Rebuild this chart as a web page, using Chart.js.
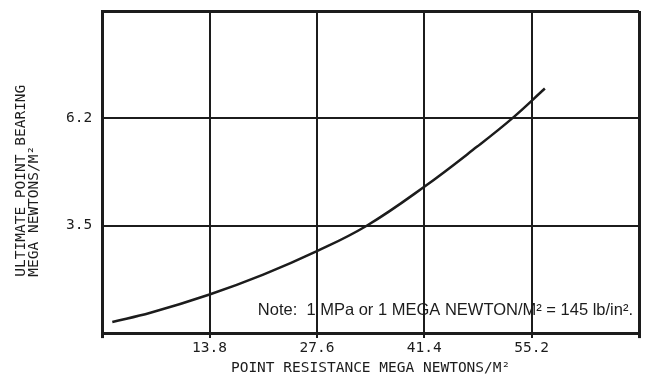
<!DOCTYPE html>
<html><head><meta charset="utf-8">
<script src="https://cdn.jsdelivr.net/npm/chart.js@4/dist/chart.umd.min.js"></script>
<style>html,body{margin:0;padding:0;background:#fff;}#wrap{width:648px;height:380px;}</style>
</head><body><div id="wrap"><canvas id="c" width="648" height="380"></canvas></div>
<script>
const pointResistance = [1.3, 6.2, 13.8, 20.7, 27.6, 34.0, 41.4, 48.2, 52.7, 56.9];
const pointBearing    = [1.08, 1.31, 1.77, 2.27, 2.86, 3.5, 4.48, 5.49, 6.2, 6.95];
const xTicks = [0, 13.8, 27.6, 41.4, 55.2, 69];
const yTicks = [0.8, 3.5, 6.2, 8.9];
const xLabels = ["", "13.8", "27.6", "41.4", "55.2", ""];
const yLabels = ["", "3.5", "6.2", ""];
const xTitle = "POINT RESISTANCE MEGA NEWTONS/M²";
const yTitle = ["ULTIMATE POINT BEARING", "MEGA NEWTONS/M²"];
const noteText = "Note:  1 MPa or 1 MEGA NEWTON/M² = 145 lb/in².";

const ink = "#1c1c1c";
const mono = "'DejaVu Sans Mono', 'Liberation Mono', monospace";

const textPlugin = {
  id: 'texts',
  afterDatasetsDraw(chart) {
    const {ctx, chartArea} = chart;
    ctx.save();
    ctx.fillStyle = ink;
    ctx.font = "16.5px 'Liberation Sans', Arial, sans-serif";
    ctx.textAlign = "right";
    ctx.textBaseline = "alphabetic";
    ctx.fillText(noteText, chartArea.right - 6, chartArea.bottom - 18);
    ctx.restore();
  },
  afterDraw(chart) {
    const {ctx, chartArea} = chart;
    ctx.save();
    ctx.fillStyle = ink;
    ctx.font = "14.5px " + mono;
    ctx.textAlign = "left";
    ctx.textBaseline = "alphabetic";
    const startY = chartArea.top + (chartArea.bottom - chartArea.top) * 0.825;
    const cols = [25, 38];
    yTitle.forEach((t, i) => {
      ctx.save();
      ctx.translate(cols[i], startY);
      ctx.rotate(-Math.PI / 2);
      ctx.fillText(t, 0, 0);
      ctx.restore();
    });
    ctx.restore();
  }
};

new Chart(document.getElementById('c'), {
  type: 'scatter',
  data: {
    datasets: [{
      data: pointResistance.map((x, i) => ({x: x, y: pointBearing[i]})),
      showLine: true,
      borderColor: ink,
      borderWidth: 2.5,
      pointRadius: 0,
      tension: 0.4,
      fill: false
    }]
  },
  options: {
    responsive: false,
    animation: false,
    layout: {padding: {top: 11, right: 9, left: 56, bottom: 5}},
    plugins: {legend: {display: false}, tooltip: {enabled: false}},
    scales: {
      x: {
        type: 'linear', min: 0, max: 69,
        afterBuildTicks: s => { s.ticks = xTicks.map(v => ({value: v})); },
        ticks: {
          color: ink, font: {family: mono, size: 14.5}, padding: 1,
          callback: (v, i) => xLabels[i]
        },
        grid: {
          color: ink,
          lineWidth: c => (c.index === 0 || c.index === xTicks.length - 1) ? 3 : 2,
          tickLength: 5, drawTicks: true
        },
        border: {display: true, color: ink, width: 3},
        title: {display: true, text: xTitle, color: ink, font: {family: mono, size: 14.5, lineHeight: 1.0}, padding: {top: 3, bottom: 0}}
      },
      y: {
        type: 'linear', min: 0.8, max: 8.9,
        afterBuildTicks: s => { s.ticks = yTicks.map(v => ({value: v})); },
        afterFit: s => { s.paddingTop = 0; s.paddingBottom = 0; },
        ticks: {
          color: ink, font: {family: mono, size: 14.5}, padding: 10,
          callback: (v, i) => yLabels[i]
        },
        grid: {
          color: ink,
          lineWidth: c => (c.index === 0 || c.index === yTicks.length - 1) ? 3 : 2,
          drawTicks: false
        },
        border: {display: true, color: ink, width: 3}
      }
    }
  },
  plugins: [textPlugin]
});
</script>
</body></html>
